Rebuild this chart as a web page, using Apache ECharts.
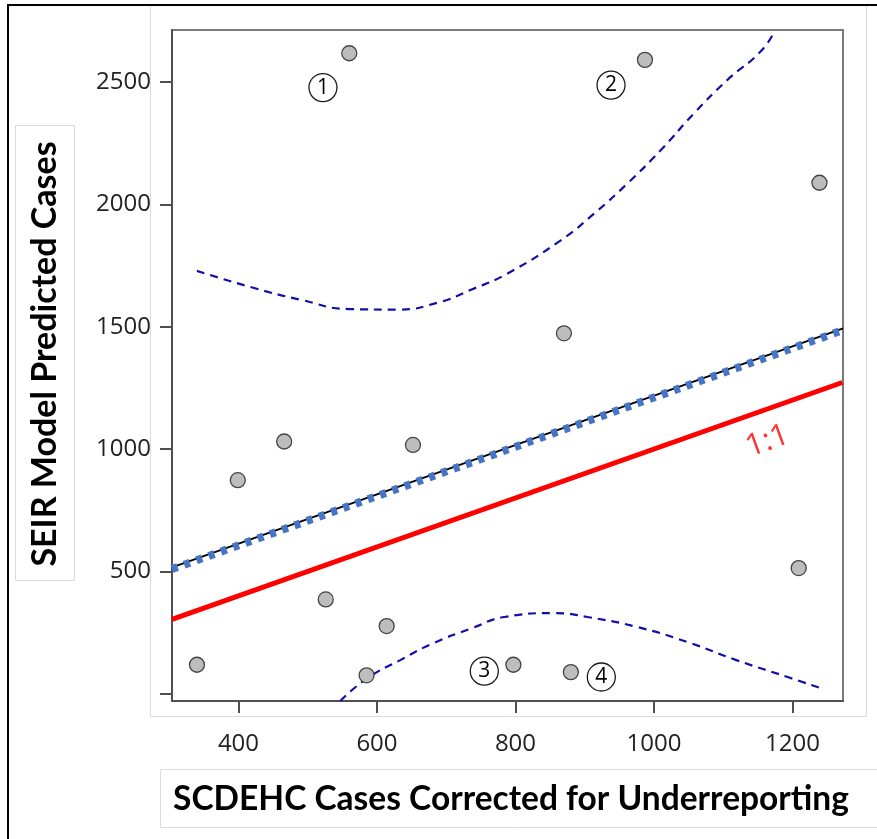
<!DOCTYPE html>
<html>
<head>
<meta charset="utf-8">
<script src="https://cdn.jsdelivr.net/npm/echarts@6/dist/echarts.min.js"></script>
<style>
  html, body { margin: 0; padding: 0; background: #fff; }
  #chart { width: 877px; height: 839px; }
</style>
</head>
<body>
<div id="chart"></div>
<script>
// observed counties: SCDEHC corrected cases vs SEIR predicted cases
var obsX = [340, 399, 466, 526, 560, 585, 614, 652, 797, 870, 880, 987, 1209, 1239]
var obsY = [119, 873, 1031, 386, 2617, 76, 277, 1017, 119, 1473, 89, 2590, 514, 2088]

// fitted line
var fitX = [304, 1273]
var fitY = [517, 1493]

// 1:1 reference line
var refX = [304, 1272]
var refY = [304, 1272]

// confidence band, upper and lower
var upperX = [340, 420, 490, 560, 630, 690, 735, 787, 866, 914, 962, 1010, 1058, 1106, 1154, 1174]
var upperY = [1728, 1660, 1610, 1572, 1570, 1600, 1650, 1715, 1854, 1963, 2086, 2222, 2372, 2508, 2624, 2706]
var lowerX = [547, 585, 633, 682, 736, 784, 856, 904, 976, 1048, 1120, 1193, 1239]
var lowerY = [-29, 62, 137, 208, 267, 314, 330, 314, 273, 212, 137, 69, 25]

// numbered notes
var noteText = ['1', '2', '3', '4']
var noteX = [522, 938, 755, 924]
var noteY = [2477, 2487, 93, 69]

// ticks
var xTicks = [400, 600, 800, 1000, 1200]
var yTicks = [0, 500, 1000, 1500, 2000, 2500]
var yLabels = [500, 1000, 1500, 2000, 2500]

function pairs (xs, ys) {
  return xs.map(function (x, i) { return [x, ys[i]] })
}

var chart = echarts.init(document.getElementById('chart'))

var tickFont = {
  fontFamily: 'Open Sans',
  fontSize: 24,
  color: '#222',
  formatter: function (v) { return String(v) }
}

var bandStyle = { color: '#1010a8', width: 2.2, type: [8, 6] }

chart.setOption({
  animation: false,
  grid: {
    left: 172,
    top: 30,
    width: 671,
    height: 671,
    show: true,
    borderColor: '#7a7a7a',
    borderWidth: 2,
    backgroundColor: 'transparent'
  },
  xAxis: {
    type: 'value',
    min: 304,
    max: 1273,
    axisLine: { show: true, onZero: false, lineStyle: { color: '#505050', width: 2 } },
    axisTick: { show: true, length: 12, customValues: xTicks, lineStyle: { color: '#505050', width: 2 } },
    axisLabel: Object.assign({ margin: 31, customValues: xTicks }, tickFont),
    splitLine: { show: false }
  },
  yAxis: {
    type: 'value',
    min: -29,
    max: 2712,
    axisLine: { show: true, onZero: false, lineStyle: { color: '#505050', width: 2 } },
    axisTick: { show: true, length: 12, customValues: yTicks, lineStyle: { color: '#505050', width: 2 } },
    axisLabel: Object.assign({ margin: 21, customValues: yLabels }, tickFont),
    splitLine: { show: false }
  },
  graphic: [
    // panel frames
    { type: 'rect', z: -10, shape: { x: 150.5, y: 5.5, width: 716, height: 711 }, style: { fill: null, stroke: '#dcdcdc', lineWidth: 1 } },
    { type: 'rect', z: -10, shape: { x: 15.5, y: 125.5, width: 59, height: 455 }, style: { fill: null, stroke: '#dcdcdc', lineWidth: 1 } },
    { type: 'rect', z: -10, shape: { x: 160.5, y: 769.5, width: 730, height: 58 }, style: { fill: null, stroke: '#dcdcdc', lineWidth: 1 } },
    { type: 'line', shape: { x1: 7, y1: 5, x2: 877, y2: 5 }, style: { stroke: '#000', lineWidth: 2 } },
    { type: 'line', shape: { x1: 8, y1: 4, x2: 8, y2: 839 }, style: { stroke: '#000', lineWidth: 2 } },
    // axis titles
    {
      type: 'text',
      x: 511,
      y: 799,
      style: {
        text: 'SCDEHC Cases Corrected for Underreporting',
        font: 'bold 33.5px Lato',
        fill: '#000',
        textAlign: 'center',
        textVerticalAlign: 'middle'
      }
    },
    {
      type: 'text',
      x: 45,
      y: 354,
      rotation: Math.PI / 2,
      style: {
        text: 'SEIR Model Predicted Cases',
        font: 'bold 34px Lato',
        fill: '#000',
        textAlign: 'center',
        textVerticalAlign: 'middle'
      }
    }
  ],
  series: [
    {
      name: 'upper',
      type: 'line',
      data: pairs(upperX, upperY),
      smooth: 0.5,
      showSymbol: false,
      lineStyle: bandStyle,
      z: 2
    },
    {
      name: 'lower',
      type: 'line',
      data: pairs(lowerX, lowerY),
      smooth: 0.5,
      showSymbol: false,
      lineStyle: bandStyle,
      z: 2
    },
    {
      name: 'ref',
      type: 'line',
      data: pairs(refX, refY),
      showSymbol: false,
      lineStyle: { color: '#ff0000', width: 5, cap: 'butt' },
      z: 3
    },
    {
      name: 'fit',
      type: 'line',
      data: pairs(fitX, fitY),
      showSymbol: false,
      lineStyle: { color: '#000', width: 2 },
      z: 3
    },
    {
      name: 'fitDots',
      type: 'line',
      data: pairs(fitX, fitY.map(function (v) { return v - 7 })),
      showSymbol: false,
      lineStyle: { color: '#4674c6', width: 8, type: [6, 7], cap: 'butt' },
      z: 4
    },
    {
      name: 'observed',
      type: 'scatter',
      data: pairs(obsX, obsY),
      symbol: 'circle',
      symbolSize: 15,
      itemStyle: { color: '#bdbdbd', borderColor: '#444', borderWidth: 1.3, opacity: 1 },
      z: 5
    },
    {
      name: 'notes',
      type: 'scatter',
      data: noteX.map(function (x, i) { return { value: [x, noteY[i]], name: noteText[i] } }),
      symbol: 'circle',
      symbolSize: 28,
      itemStyle: { color: '#fff', borderColor: '#1a1a1a', borderWidth: 1.3, opacity: 1 },
      label: {
        show: true,
        position: 'inside',
        formatter: '{b}',
        fontFamily: 'Open Sans',
        fontSize: 21,
        color: '#000'
      },
      z: 5
    },
    {
      name: 'ratioLabel',
      type: 'scatter',
      data: [{ value: [1164, 1032], name: '1:1' }],
      symbolSize: 0,
      label: {
        show: true,
        position: 'inside',
        formatter: '{b}',
        rotate: 20,
        fontFamily: 'Open Sans',
        fontSize: 31,
        color: '#ff0000'
      },
      z: 5
    }
  ]
})
</script>
</body>
</html>
